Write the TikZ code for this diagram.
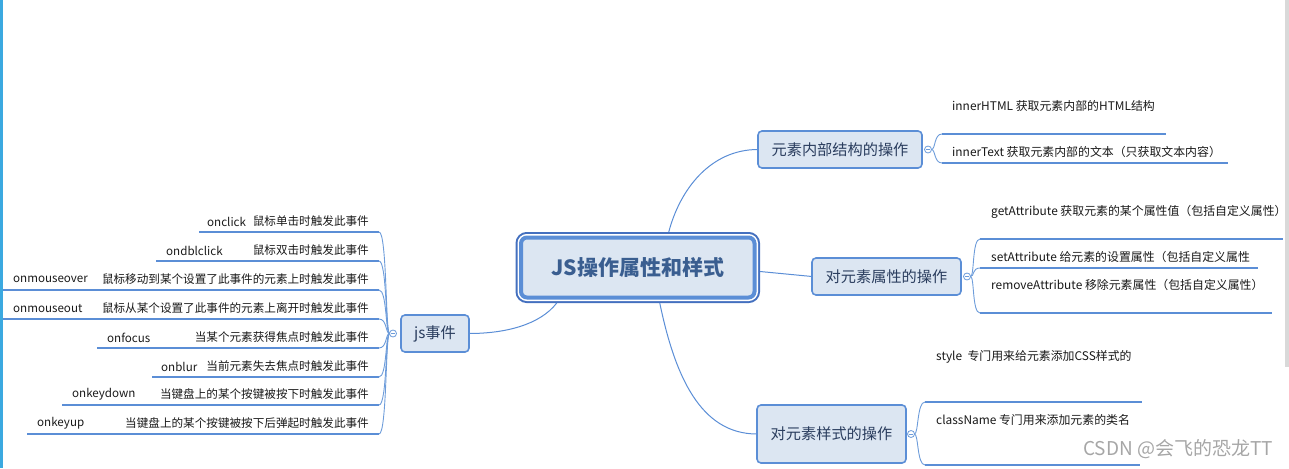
\documentclass[tikz,border=0pt]{standalone}
\usepackage{fontspec}
\setmainfont{Noto Sans CJK SC}
\usepackage{tikz}
\usetikzlibrary{positioning}
\definecolor{topicfill}{HTML}{DCE6F2}
\definecolor{topicline}{HTML}{5B8ED6}
\definecolor{rootline}{HTML}{4470BF}
\definecolor{linkblue}{HTML}{6D9CDA}
\definecolor{topictext}{HTML}{2A3D5E}
\definecolor{roottext}{HTML}{3A5E90}
\definecolor{edgeblue}{HTML}{3BA9E0}
\tikzstyle{root} = [rectangle, draw=topicline, fill=topicfill, line width=4pt, rounded corners=6pt, inner sep=0pt, outer sep=5.5pt, minimum width=233.5pt, minimum height=60pt, text=roottext, font=\fontsize{21}{25}\selectfont\bfseries, preaction={draw=rootline, line width=11pt}, preaction={draw=white, line width=7pt}]
\tikzstyle{topic} = [rectangle, draw=topicline, fill=topicfill, line width=1.6pt, rounded corners=4pt, inner sep=0pt, outer sep=0pt, minimum height=37pt, text=topictext, font=\fontsize{15.2}{18}\selectfont]
\tikzstyle{fold} = [circle, draw=linkblue, fill=white, line width=0.8pt, minimum size=7pt, inner sep=0pt, outer sep=0pt, path picture={\draw[linkblue, line width=0.7pt] ([xshift=-2pt]path picture bounding box.center) -- ([xshift=2pt]path picture bounding box.center);}]
\tikzstyle{leaf} = [inner sep=0pt, text=black!90, font=\fontsize{11.6}{14}\selectfont]
\tikzstyle{note} = [inner sep=0pt, text=black!90, font=\fontsize{11.9}{14}\selectfont]
\tikzstyle{bar} = [draw=topicline, line width=2.2pt]
\tikzstyle{link} = [draw=linkblue, line width=0.9pt]
\tikzstyle{branch} = [draw=topicline, line width=1pt]

\begin{document}
\begin{tikzpicture}[x=1pt, y=-1pt]
    \useasboundingbox (0,0) rectangle (1289,468);
    \draw [edgeblue, line width=2.5pt] (1.25,0) -- (1.25,468);
    \fill [gray!30] (1285,0) rectangle (1289,367);

    \node (root) [root] at (637.75,267.5) {JS操作属性和样式};

    \node (js) [topic, minimum width=68pt] at (435,333.5) {js事件};
    \node (inner) [topic, minimum width=164pt] at (840,149.5) {元素内部结构的操作};
    \node (attr) [topic, minimum width=149pt] at (886.5,276.5) {对元素属性的操作};
    \node (css) [topic, minimum width=149pt, minimum height=58pt] at (831.5,434) {对元素样式的操作};

    \node (jsfold) [fold, left=4.5pt of js] {};
    \node (innerfold) [fold, right=2.5pt of inner] {};
    \node (attrfold) [fold, right=2.5pt of attr] {};
    \node (cssfold) [fold, right=1.5pt of css] {};

    \draw [branch] ([xshift=-81pt]root.south) .. controls +(-17,22) and +(36,0) .. (js.east);
    \draw [branch] ([xshift=31pt]root.north) .. controls +(11,-42) and +(-48,0) .. (inner.west);
    \draw [branch] ([yshift=-4pt]root.east) -- (attr.west);
    \draw [branch] ([xshift=22pt]root.south) .. controls +(15,72) and +(-57,0) .. (css.west);

    % js events
    \node (on1) [leaf, anchor=west] at (207,221.5) {onclick};
    \node (ds1) [leaf, anchor=east] at (369,221.5) {鼠标单击时触发此事件};
    \node (on2) [leaf, anchor=west] at (166,250.5) {ondblclick};
    \node (ds2) [leaf, anchor=east] at (369,250.5) {鼠标双击时触发此事件};
    \node (on3) [leaf, anchor=west] at (13,279.5) {onmouseover};
    \node (ds3) [leaf, anchor=east] at (369,279.5) {鼠标移动到某个设置了此事件的元素上时触发此事件};
    \node (on4) [leaf, anchor=west] at (13,308.5) {onmouseout};
    \node (ds4) [leaf, anchor=east] at (369,308.5) {鼠标从某个设置了此事件的元素上离开时触发此事件};
    \node (on5) [leaf, anchor=west] at (107,337.5) {onfocus};
    \node (ds5) [leaf, anchor=east] at (369,337.5) {当某个元素获得焦点时触发此事件};
    \node (on6) [leaf, anchor=west] at (161,366.5) {onblur};
    \node (ds6) [leaf, anchor=east] at (369,366.5) {当前元素失去焦点时触发此事件};
    \node (on7) [leaf, anchor=west] at (72,394.5) {onkeydown};
    \node (ds7) [leaf, anchor=east] at (369,394.5) {当键盘上的某个按键被按下时触发此事件};
    \node (on8) [leaf, anchor=west] at (37,423.5) {onkeyup};
    \node (ds8) [leaf, anchor=east] at (369,423.5) {当键盘上的某个按键被按下后弹起时触发此事件};

    \coordinate (ev1) at (379,232);
    \coordinate (ev2) at (379,261);
    \coordinate (ev3) at (379,290);
    \coordinate (ev4) at (379,319);
    \coordinate (ev5) at (379,348);
    \coordinate (ev6) at (379,377);
    \coordinate (ev7) at (379,405);
    \coordinate (ev8) at (379,434);
    \draw [bar] (ev1) -- ++(-180,0);
    \draw [bar] (ev2) -- ++(-223,0);
    \draw [bar] (ev3) -- ++(-376,0);
    \draw [bar] (ev4) -- ++(-376,0);
    \draw [bar] (ev5) -- ++(-282,0);
    \draw [bar] (ev6) -- ++(-227,0);
    \draw [bar] (ev7) -- ++(-317,0);
    \draw [bar] (ev8) -- ++(-352,0);
    \draw [link] (jsfold.west) .. controls +(-4,0) and +(8,0) .. (ev1);
    \draw [link] (jsfold.west) .. controls +(-4,0) and +(8,0) .. (ev2);
    \draw [link] (jsfold.west) .. controls +(-4,0) and +(8,0) .. (ev3);
    \draw [link] (jsfold.west) .. controls +(-4,0) and +(8,0) .. (ev4);
    \draw [link] (jsfold.west) .. controls +(-4,0) and +(8,0) .. (ev5);
    \draw [link] (jsfold.west) .. controls +(-4,0) and +(8,0) .. (ev6);
    \draw [link] (jsfold.west) .. controls +(-4,0) and +(8,0) .. (ev7);
    \draw [link] (jsfold.west) .. controls +(-4,0) and +(8,0) .. (ev8);

    % inner structure
    \node (in1) [note, anchor=west] at (952,106) {innerHTML 获取元素内部的HTML结构};
    \node (in2) [note, anchor=west] at (952,152) {innerText 获取元素内部的文本（只获取文本内容）};
    \coordinate (ib1) at (942,134);
    \coordinate (ib2) at (942,163);
    \draw [bar] (ib1) -- ++(224,0);
    \draw [bar] (ib2) -- ++(286,0);
    \draw [link] (innerfold.east) .. controls +(4,0) and +(-8,0) .. (ib1);
    \draw [link] (innerfold.east) .. controls +(4,0) and +(-8,0) .. (ib2);

    % attributes
    \node (at1) [note, anchor=west] at (991,212) {getAttribute 获取元素的某个属性值（包括自定义属性）};
    \node (at2) [note, anchor=west] at (991,257) {setAttribute 给元素的设置属性（包括自定义属性};
    \node (at3) [note, anchor=west] at (991,285) {removeAttribute 移除元素属性（包括自定义属性）};
    \coordinate (ab1) at (980,239);
    \coordinate (ab2) at (980,268);
    \coordinate (ab3) at (980,313);
    \draw [bar] (ab1) -- ++(303,0);
    \draw [bar] (ab2) -- ++(278,0);
    \draw [bar] (ab3) -- ++(292,0);
    \draw [link] (attrfold.east) .. controls +(4,0) and +(-8,0) .. (ab1);
    \draw [link] (attrfold.east) .. controls +(4,0) and +(-8,0) .. (ab2);
    \draw [link] (attrfold.east) .. controls +(4,0) and +(-8,0) .. (ab3);

    % styles
    \node (st1) [note, anchor=west] at (936,357) {style\ \ 专门用来给元素添加CSS样式的};
    \node (st2) [note, anchor=west] at (936,420) {className 专门用来添加元素的类名};
    \coordinate (sb1) at (925,402);
    \coordinate (sb2) at (925,465);
    \draw [bar] (sb1) -- ++(217,0);
    \draw [bar] (sb2) -- ++(215,0);
    \draw [link] (cssfold.east) .. controls +(4,0) and +(-8,0) .. (sb1);
    \draw [link] (cssfold.east) .. controls +(4,0) and +(-8,0) .. (sb2);

    \node (mark) [anchor=west, inner sep=0pt, text=gray!70, font=\fontsize{19}{22}\selectfont] at (1083,449) {CSDN @会飞的恐龙TT};
\end{tikzpicture}
\end{document}
